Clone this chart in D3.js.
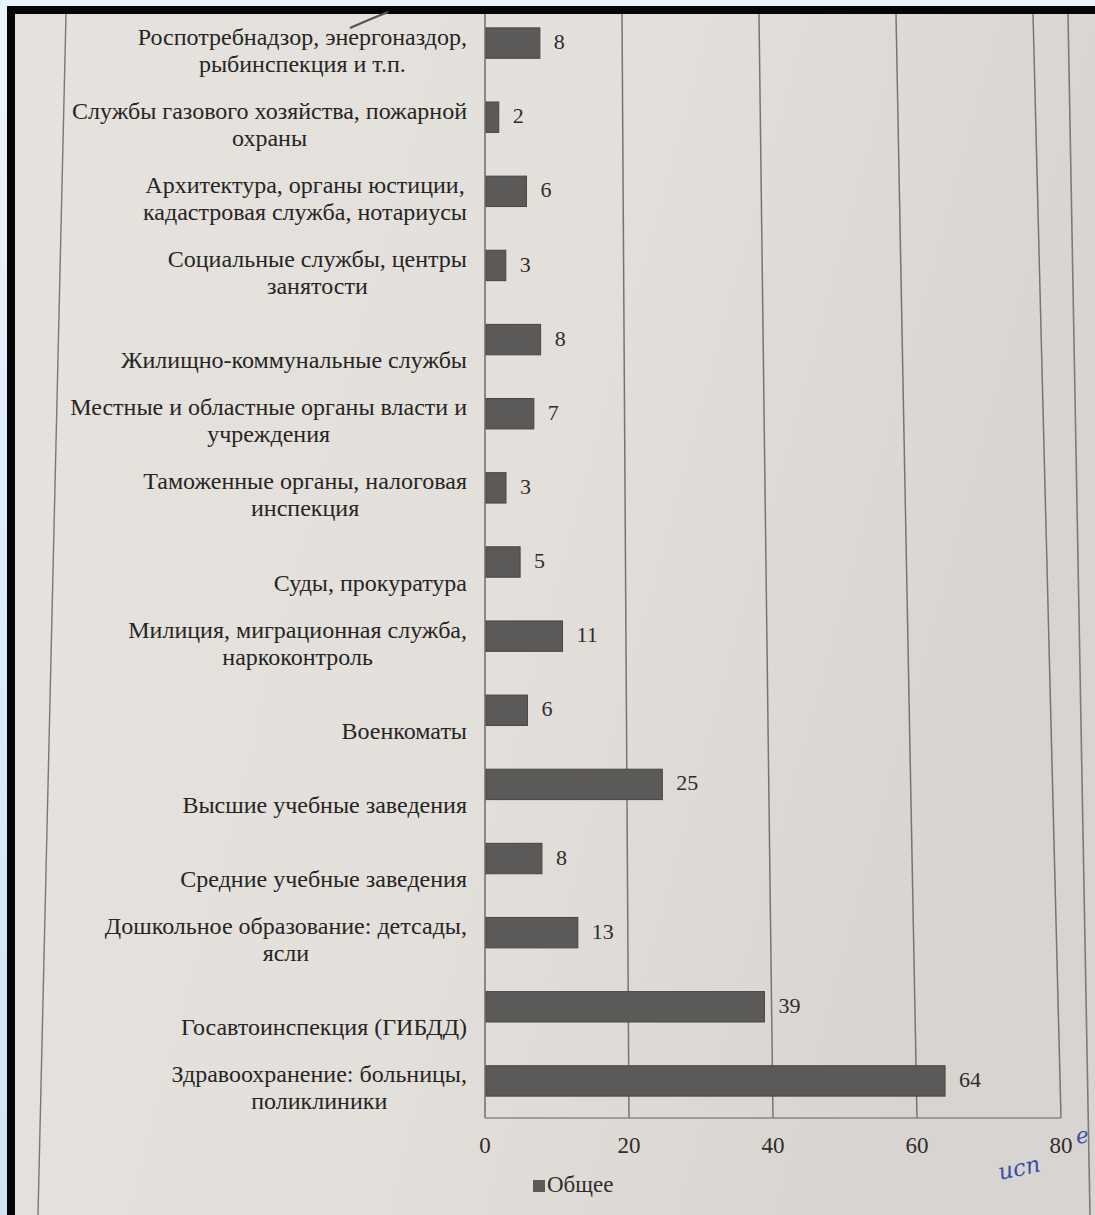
<!DOCTYPE html>
<html><head><meta charset="utf-8">
<script src="https://cdn.jsdelivr.net/npm/d3@7"></script>
<style>html,body{margin:0;padding:0;background:#dbe9f5;}svg{display:block}</style>
</head><body>
<svg id="c" width="1095" height="1215"></svg>
<script>
const categories = [
  ["Роспотребнадзор, энергоназдор,", "рыбинспекция и т.п."],
  ["Службы газового хозяйства, пожарной", "охраны"],
  ["Архитектура, органы юстиции,", "кадастровая служба, нотариусы"],
  ["Социальные службы, центры", "занятости"],
  ["", "Жилищно-коммунальные службы"],
  ["Местные и областные органы власти и", "учреждения"],
  ["Таможенные органы, налоговая", "инспекция"],
  ["", "Суды, прокуратура"],
  ["Милиция, миграционная служба,", "наркоконтроль"],
  ["", "Военкоматы"],
  ["", "Высшие учебные заведения"],
  ["", "Средние учебные заведения"],
  ["Дошкольное образование: детсады,", "ясли"],
  ["", "Госавтоинспекция (ГИБДД)"],
  ["Здравоохранение: больницы,", "поликлиники"]
];
const values = [8, 2, 6, 3, 8, 7, 3, 5, 11, 6, 25, 8, 13, 39, 64];
const xTicks = [0, 20, 40, 60, 80];
const seriesName = "Общее";

const svg = d3.select("#c");
const defs = svg.append("defs");
const bg = defs.append("linearGradient").attr("id","paper").attr("x1","0").attr("x2","1").attr("y1","0").attr("y2","0.3");
bg.append("stop").attr("offset","0").attr("stop-color","#e6e2dd");
bg.append("stop").attr("offset","0.55").attr("stop-color","#e3dfda");
bg.append("stop").attr("offset","1").attr("stop-color","#d8d5d1");
const blue = defs.append("linearGradient").attr("id","blue").attr("x1","0").attr("x2","0").attr("y1","0").attr("y2","1");
blue.append("stop").attr("offset","0").attr("stop-color","#eaf4fc");
blue.append("stop").attr("offset","1").attr("stop-color","#cfe3f4");

// frame
svg.append("rect").attr("width",1095).attr("height",1215).attr("fill","url(#blue)");
svg.append("rect").attr("x",7).attr("y",6).attr("width",1088).attr("height",1209).attr("fill","#050505");
svg.append("rect").attr("x",15).attr("y",14).attr("width",1080).attr("height",1201).attr("fill","url(#paper)");

// page edge lines (photo)
svg.append("line").attr("x1",66).attr("y1",14).attr("x2",38).attr("y2",1215).attr("stroke","#7a7875").attr("stroke-width",1.4);
svg.append("line").attr("x1",1068).attr("y1",14).attr("x2",1090).attr("y2",1215).attr("stroke","#7d7b78").attr("stroke-width",1.6);
// pen stroke at top
svg.append("path").attr("d","M350,28 Q368,20 388,12").attr("stroke","#555").attr("stroke-width",2.4).attr("fill","none");

const plotTop = 14, plotBottom = 1118, x0 = 485;
const xTop = d3.scaleLinear().domain([0,80]).range([x0, 1033]);
const xBot = d3.scaleLinear().domain([0,80]).range([x0, 1061]);
const xAt = y => {
  const t = (y - plotTop) / (plotBottom - plotTop);
  return d3.scaleLinear().domain([0,80]).range([x0, d3.interpolateNumber(1033,1061)(t)]);
};
const y = d3.scaleBand().domain(d3.range(categories.length)).range([6, plotBottom]).paddingInner(0.59).paddingOuter(0.295);

// gridlines
svg.append("g").selectAll("line").data(xTicks).join("line")
  .attr("x1", d => xTop(d)).attr("y1", plotTop)
  .attr("x2", d => xBot(d)).attr("y2", plotBottom)
  .attr("stroke", (d) => d===0 ? "#6e6c69" : "#777572").attr("stroke-width", 1.5);
// bottom border of plot
svg.append("line").attr("x1", xBot(0)).attr("x2", xBot(80)).attr("y1", plotBottom).attr("y2", plotBottom)
  .attr("stroke","#8a8885").attr("stroke-width",1.4);

// bars
const bars = svg.append("g");
values.forEach((v,i) => {
  const yc = y(i) + y.bandwidth()/2;
  const sx = xAt(yc);
  bars.append("rect").attr("x", sx(0)+1).attr("y", y(i)).attr("width", sx(v)-sx(0)-1).attr("height", y.bandwidth())
    .attr("fill","#5b5a59").attr("stroke","#474645").attr("stroke-width",1);
  bars.append("text").attr("x", sx(v)+14).attr("y", yc+1).attr("dominant-baseline","middle")
    .attr("font-family","Liberation Serif").attr("font-size",22).attr("fill","#2e2d2c").text(v);
});

// category labels
const labG = svg.append("g").attr("font-family","Liberation Serif").attr("font-size",24).attr("fill","#262524");
categories.forEach((lines,i) => {
  const yc = y(i) + y.bandwidth()/2;
  const g = labG.append("g");
  const ts = lines.map((l,k) => g.append("text").attr("y", yc + (k===0 ? -4 : 23)).attr("dominant-baseline","middle").text(l));
  const w = d3.max(ts, t => t.node().getComputedTextLength());
  const right = 467;
  ts.forEach(t => t.attr("x", right - w/2).attr("text-anchor","middle"));
});

// x tick labels
svg.append("g").selectAll("text").data(xTicks).join("text")
  .attr("x", d => xBot(d)).attr("y", 1148).attr("text-anchor","middle").attr("dominant-baseline","middle")
  .attr("font-family","Liberation Serif").attr("font-size",23).attr("fill","#2e2d2c").text(d => d);

// legend
svg.append("rect").attr("x",533).attr("y",1180).attr("width",12).attr("height",12).attr("fill","#5b5a59");
svg.append("text").attr("x",547).attr("y",1187).attr("dominant-baseline","middle")
  .attr("font-family","Liberation Serif").attr("font-size",23).attr("fill","#2e2d2c").text(seriesName);

// handwritten notes
svg.append("text").attr("x",1077).attr("y",1144).attr("font-family","DejaVu Serif").attr("font-style","italic")
  .attr("font-size",22).attr("fill","#3b4fa8").attr("transform","rotate(-10,1077,1144)").text("е");
svg.append("text").attr("x",1000).attr("y",1180).attr("font-family","DejaVu Serif").attr("font-style","italic")
  .attr("font-size",23).attr("fill","#3b4fa8").attr("transform","rotate(-12,1000,1180)").text("исп");
</script>
</body></html>
